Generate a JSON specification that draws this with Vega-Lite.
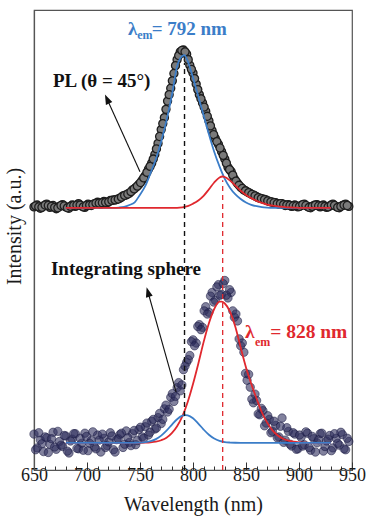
{
  "$schema": "https://vega.github.io/schema/vega-lite/v6.json",
  "width": 318,
  "height": 460,
  "autosize": "none",
  "padding": {"left": 34, "top": 10, "right": 24, "bottom": 57},
  "background": "white",
  "config": {"view": {"stroke": "#555", "strokeWidth": 1.2}, "font": "Times New Roman, Liberation Serif, DejaVu Serif, serif"},
  "datasets": {
    "pl": [
      {"wavelength":650,"intensity":57.2},{"wavelength":653,"intensity":57.6},{"wavelength":656,"intensity":56.9},{"wavelength":659,"intensity":57.4},{"wavelength":662,"intensity":57.8},{"wavelength":665,"intensity":57.1},{"wavelength":668,"intensity":57.5},{"wavelength":671,"intensity":56.8},{"wavelength":674,"intensity":57.3},{"wavelength":677,"intensity":57.7},{"wavelength":680,"intensity":57.2},{"wavelength":683,"intensity":56.9},{"wavelength":686,"intensity":57.6},{"wavelength":689,"intensity":57.3},{"wavelength":692,"intensity":57.9},{"wavelength":695,"intensity":57.4},{"wavelength":698,"intensity":57.1},{"wavelength":701,"intensity":57.8},{"wavelength":704,"intensity":57.5},{"wavelength":707,"intensity":57.9},{"wavelength":710,"intensity":58.2},{"wavelength":713,"intensity":57.8},{"wavelength":716,"intensity":58.4},{"wavelength":719,"intensity":58.1},{"wavelength":722,"intensity":58.6},{"wavelength":725,"intensity":58.7},{"wavelength":728,"intensity":58.8},{"wavelength":731,"intensity":59.1},{"wavelength":734,"intensity":59.6},{"wavelength":737,"intensity":59.8},{"wavelength":740,"intensity":60.2},{"wavelength":743,"intensity":60.9},{"wavelength":746,"intensity":61.4},{"wavelength":749,"intensity":62.1},{"wavelength":752,"intensity":63.0},{"wavelength":755,"intensity":64.0},{"wavelength":758,"intensity":65.4},{"wavelength":761,"intensity":66.7},{"wavelength":764,"intensity":68.6},{"wavelength":767,"intensity":71.0},{"wavelength":770,"intensity":74.0},{"wavelength":773,"intensity":76.6},{"wavelength":776,"intensity":80.2},{"wavelength":779,"intensity":83.0},{"wavelength":782,"intensity":86.2},{"wavelength":785,"intensity":89.2},{"wavelength":788,"intensity":90.9},{"wavelength":791,"intensity":91.3},{"wavelength":794,"intensity":90.4},{"wavelength":797,"intensity":88.0},{"wavelength":800,"intensity":86.3},{"wavelength":803,"intensity":83.9},{"wavelength":806,"intensity":81.6},{"wavelength":809,"intensity":79.8},{"wavelength":812,"intensity":78.0},{"wavelength":815,"intensity":75.9},{"wavelength":818,"intensity":73.8},{"wavelength":821,"intensity":72.1},{"wavelength":824,"intensity":70.8},{"wavelength":827,"intensity":69.2},{"wavelength":830,"intensity":67.6},{"wavelength":833,"intensity":65.8},{"wavelength":836,"intensity":64.9},{"wavelength":839,"intensity":63.3},{"wavelength":842,"intensity":62.3},{"wavelength":845,"intensity":61.5},{"wavelength":848,"intensity":60.9},{"wavelength":851,"intensity":60.5},{"wavelength":854,"intensity":60.1},{"wavelength":857,"intensity":59.8},{"wavelength":860,"intensity":59.4},{"wavelength":863,"intensity":59.1},{"wavelength":866,"intensity":58.9},{"wavelength":869,"intensity":58.7},{"wavelength":872,"intensity":58.4},{"wavelength":875,"intensity":58.2},{"wavelength":878,"intensity":58.1},{"wavelength":881,"intensity":57.8},{"wavelength":884,"intensity":57.9},{"wavelength":887,"intensity":57.5},{"wavelength":890,"intensity":57.7},{"wavelength":893,"intensity":57.3},{"wavelength":896,"intensity":57.6},{"wavelength":899,"intensity":57.2},{"wavelength":902,"intensity":57.5},{"wavelength":905,"intensity":57.8},{"wavelength":908,"intensity":57.3},{"wavelength":911,"intensity":57.0},{"wavelength":914,"intensity":57.5},{"wavelength":917,"intensity":57.7},{"wavelength":920,"intensity":57.2},{"wavelength":923,"intensity":57.6},{"wavelength":926,"intensity":57.1},{"wavelength":929,"intensity":57.4},{"wavelength":932,"intensity":57.8},{"wavelength":935,"intensity":57.3},{"wavelength":938,"intensity":57.0},{"wavelength":941,"intensity":57.5},{"wavelength":944,"intensity":57.8},{"wavelength":947,"intensity":57.3},
      {"wavelength":651.5,"intensity":57.4},{"wavelength":654.5,"intensity":57.2},{"wavelength":657.5,"intensity":57.1},{"wavelength":660.5,"intensity":57.6},{"wavelength":663.5,"intensity":57.5},{"wavelength":666.5,"intensity":57.3},{"wavelength":669.5,"intensity":57.1},{"wavelength":672.5,"intensity":57.0},{"wavelength":675.5,"intensity":57.5},{"wavelength":678.5,"intensity":57.4},{"wavelength":681.5,"intensity":57.0},{"wavelength":684.5,"intensity":57.3},{"wavelength":687.5,"intensity":57.5},{"wavelength":690.5,"intensity":57.6},{"wavelength":693.5,"intensity":57.6},{"wavelength":696.5,"intensity":57.2},{"wavelength":699.5,"intensity":57.5},{"wavelength":702.5,"intensity":57.6},{"wavelength":705.5,"intensity":57.7},{"wavelength":708.5,"intensity":58.0},{"wavelength":711.5,"intensity":58.0},{"wavelength":714.5,"intensity":58.1},{"wavelength":717.5,"intensity":58.2},{"wavelength":720.5,"intensity":58.3},{"wavelength":723.5,"intensity":58.6},{"wavelength":726.5,"intensity":58.7},{"wavelength":729.5,"intensity":58.9},{"wavelength":732.5,"intensity":59.3},{"wavelength":735.5,"intensity":59.7},{"wavelength":738.5,"intensity":60.0},{"wavelength":741.5,"intensity":60.5},{"wavelength":744.5,"intensity":61.1},{"wavelength":747.5,"intensity":61.7},{"wavelength":750.5,"intensity":62.5},{"wavelength":753.5,"intensity":63.5},{"wavelength":756.5,"intensity":64.7},{"wavelength":759.5,"intensity":66.0},{"wavelength":762.5,"intensity":67.6},{"wavelength":765.5,"intensity":69.8},{"wavelength":768.5,"intensity":72.5},{"wavelength":771.5,"intensity":75.3},{"wavelength":774.5,"intensity":78.4},{"wavelength":777.5,"intensity":81.6},{"wavelength":780.5,"intensity":84.6},{"wavelength":783.5,"intensity":87.9},{"wavelength":786.5,"intensity":90.1},{"wavelength":789.5,"intensity":91.2},{"wavelength":792.5,"intensity":90.9},{"wavelength":795.5,"intensity":89.2},{"wavelength":798.5,"intensity":87.1},{"wavelength":801.5,"intensity":85.1},{"wavelength":804.5,"intensity":82.7},{"wavelength":807.5,"intensity":80.7},{"wavelength":810.5,"intensity":78.9},{"wavelength":813.5,"intensity":76.9},{"wavelength":816.5,"intensity":74.8},{"wavelength":819.5,"intensity":72.9},{"wavelength":822.5,"intensity":71.4},{"wavelength":825.5,"intensity":70.0},{"wavelength":828.5,"intensity":68.4},{"wavelength":831.5,"intensity":66.7},{"wavelength":834.5,"intensity":65.3},{"wavelength":837.5,"intensity":64.1},{"wavelength":840.5,"intensity":62.8},{"wavelength":843.5,"intensity":61.9},{"wavelength":846.5,"intensity":61.2},{"wavelength":849.5,"intensity":60.7},{"wavelength":852.5,"intensity":60.3},{"wavelength":855.5,"intensity":59.9},{"wavelength":858.5,"intensity":59.6},{"wavelength":861.5,"intensity":59.2},{"wavelength":864.5,"intensity":59.0},{"wavelength":867.5,"intensity":58.8},{"wavelength":870.5,"intensity":58.5},{"wavelength":873.5,"intensity":58.3},{"wavelength":876.5,"intensity":58.1},{"wavelength":879.5,"intensity":57.9},{"wavelength":882.5,"intensity":57.9},{"wavelength":885.5,"intensity":57.7},{"wavelength":888.5,"intensity":57.6},{"wavelength":891.5,"intensity":57.5},{"wavelength":894.5,"intensity":57.4},{"wavelength":897.5,"intensity":57.4},{"wavelength":900.5,"intensity":57.3},{"wavelength":903.5,"intensity":57.7},{"wavelength":906.5,"intensity":57.5},{"wavelength":909.5,"intensity":57.1},{"wavelength":912.5,"intensity":57.3},{"wavelength":915.5,"intensity":57.6},{"wavelength":918.5,"intensity":57.4},{"wavelength":921.5,"intensity":57.4},{"wavelength":924.5,"intensity":57.3},{"wavelength":927.5,"intensity":57.2},{"wavelength":930.5,"intensity":57.6},{"wavelength":933.5,"intensity":57.5},{"wavelength":936.5,"intensity":57.1},{"wavelength":939.5,"intensity":57.3},{"wavelength":942.5,"intensity":57.6},{"wavelength":945.5,"intensity":57.5}
    ],
    "sphere": [
      {"wavelength":650,"intensity":7.8},{"wavelength":653,"intensity":4.8},{"wavelength":656,"intensity":6.5},{"wavelength":659,"intensity":4.0},{"wavelength":662,"intensity":7.0},{"wavelength":665,"intensity":5.6},{"wavelength":668,"intensity":8.2},{"wavelength":671,"intensity":4.5},{"wavelength":674,"intensity":6.2},{"wavelength":677,"intensity":5.1},{"wavelength":680,"intensity":7.4},{"wavelength":683,"intensity":3.7},{"wavelength":686,"intensity":6.7},{"wavelength":689,"intensity":7.9},{"wavelength":692,"intensity":4.6},{"wavelength":695,"intensity":5.8},{"wavelength":698,"intensity":8.0},{"wavelength":701,"intensity":4.2},{"wavelength":704,"intensity":6.4},{"wavelength":707,"intensity":5.0},{"wavelength":710,"intensity":7.6},{"wavelength":713,"intensity":3.9},{"wavelength":716,"intensity":6.9},{"wavelength":719,"intensity":5.3},{"wavelength":722,"intensity":8.1},{"wavelength":725,"intensity":4.4},{"wavelength":728,"intensity":6.6},{"wavelength":731,"intensity":7.7},{"wavelength":734,"intensity":4.9},{"wavelength":737,"intensity":8.5},{"wavelength":740,"intensity":6.0},{"wavelength":743,"intensity":7.9},{"wavelength":746,"intensity":5.5},{"wavelength":749,"intensity":8.8},{"wavelength":752,"intensity":7.2},{"wavelength":755,"intensity":9.4},{"wavelength":758,"intensity":7.6},{"wavelength":761,"intensity":10.6},{"wavelength":764,"intensity":8.9},{"wavelength":767,"intensity":11.4},{"wavelength":770,"intensity":10.1},{"wavelength":773,"intensity":13.3},{"wavelength":776,"intensity":12.6},{"wavelength":779,"intensity":15.8},{"wavelength":782,"intensity":14.9},{"wavelength":785,"intensity":17.9},{"wavelength":788,"intensity":17.2},{"wavelength":791,"intensity":21.8},{"wavelength":794,"intensity":23.4},{"wavelength":797,"intensity":24.9},{"wavelength":800,"intensity":28.3},{"wavelength":803,"intensity":27.6},{"wavelength":806,"intensity":31.6},{"wavelength":809,"intensity":31.0},{"wavelength":812,"intensity":35.5},{"wavelength":815,"intensity":34.3},{"wavelength":818,"intensity":38.6},{"wavelength":821,"intensity":36.9},{"wavelength":824,"intensity":40.3},{"wavelength":827,"intensity":38.2},{"wavelength":830,"intensity":41.2},{"wavelength":833,"intensity":37.4},{"wavelength":836,"intensity":38.6},{"wavelength":839,"intensity":33.2},{"wavelength":842,"intensity":32.4},{"wavelength":845,"intensity":27.0},{"wavelength":848,"intensity":25.6},{"wavelength":851,"intensity":19.5},{"wavelength":854,"intensity":18.0},{"wavelength":857,"intensity":14.6},{"wavelength":860,"intensity":15.1},{"wavelength":863,"intensity":12.0},{"wavelength":866,"intensity":12.9},{"wavelength":869,"intensity":10.2},{"wavelength":872,"intensity":11.0},{"wavelength":875,"intensity":8.4},{"wavelength":878,"intensity":9.7},{"wavelength":881,"intensity":7.2},{"wavelength":884,"intensity":11.3},{"wavelength":887,"intensity":6.5},{"wavelength":890,"intensity":8.4},{"wavelength":893,"intensity":5.2},{"wavelength":896,"intensity":7.8},{"wavelength":899,"intensity":4.6},{"wavelength":902,"intensity":7.1},{"wavelength":905,"intensity":5.5},{"wavelength":908,"intensity":8.0},{"wavelength":911,"intensity":4.3},{"wavelength":914,"intensity":6.8},{"wavelength":917,"intensity":5.9},{"wavelength":920,"intensity":7.9},{"wavelength":923,"intensity":4.1},{"wavelength":926,"intensity":6.3},{"wavelength":929,"intensity":7.5},{"wavelength":932,"intensity":4.8},{"wavelength":935,"intensity":6.9},{"wavelength":938,"intensity":5.4},{"wavelength":941,"intensity":7.7},{"wavelength":944,"intensity":4.4},{"wavelength":947,"intensity":6.2},
      {"wavelength":651.5,"intensity":4.4},{"wavelength":654.5,"intensity":8.1},{"wavelength":657.5,"intensity":5.7},{"wavelength":660.5,"intensity":7.2},{"wavelength":663.5,"intensity":3.8},{"wavelength":666.5,"intensity":6.8},{"wavelength":669.5,"intensity":5.0},{"wavelength":672.5,"intensity":8.4},{"wavelength":675.5,"intensity":5.4},{"wavelength":678.5,"intensity":7.5},{"wavelength":681.5,"intensity":4.1},{"wavelength":684.5,"intensity":6.3},{"wavelength":687.5,"intensity":7.9},{"wavelength":690.5,"intensity":4.7},{"wavelength":693.5,"intensity":6.9},{"wavelength":696.5,"intensity":4.3},{"wavelength":699.5,"intensity":7.3},{"wavelength":702.5,"intensity":5.8},{"wavelength":705.5,"intensity":8.3},{"wavelength":708.5,"intensity":4.6},{"wavelength":711.5,"intensity":6.5},{"wavelength":714.5,"intensity":7.8},{"wavelength":717.5,"intensity":4.9},{"wavelength":720.5,"intensity":6.1},{"wavelength":723.5,"intensity":7.4},{"wavelength":726.5,"intensity":3.9},{"wavelength":729.5,"intensity":6.8},{"wavelength":732.5,"intensity":8.0},{"wavelength":735.5,"intensity":5.6},{"wavelength":738.5,"intensity":7.0},{"wavelength":741.5,"intensity":5.3},{"wavelength":744.5,"intensity":8.6},{"wavelength":747.5,"intensity":6.4},{"wavelength":750.5,"intensity":9.3},{"wavelength":753.5,"intensity":6.9},{"wavelength":756.5,"intensity":10.2},{"wavelength":759.5,"intensity":8.2},{"wavelength":762.5,"intensity":11.0},{"wavelength":765.5,"intensity":9.1},{"wavelength":768.5,"intensity":12.3},{"wavelength":771.5,"intensity":11.0},{"wavelength":774.5,"intensity":14.1},{"wavelength":777.5,"intensity":13.2},{"wavelength":780.5,"intensity":16.6},{"wavelength":783.5,"intensity":16.0},{"wavelength":786.5,"intensity":19.0},{"wavelength":789.5,"intensity":18.5},{"wavelength":792.5,"intensity":22.6},{"wavelength":795.5,"intensity":24.0},{"wavelength":798.5,"intensity":27.9},{"wavelength":801.5,"intensity":27.0},{"wavelength":804.5,"intensity":31.2},{"wavelength":807.5,"intensity":30.5},{"wavelength":810.5,"intensity":34.6},{"wavelength":813.5,"intensity":33.9},{"wavelength":816.5,"intensity":37.8},{"wavelength":819.5,"intensity":36.5},{"wavelength":822.5,"intensity":39.8},{"wavelength":825.5,"intensity":38.0},{"wavelength":828.5,"intensity":40.5},{"wavelength":831.5,"intensity":38.0},{"wavelength":834.5,"intensity":39.2},{"wavelength":837.5,"intensity":34.6},{"wavelength":840.5,"intensity":33.9},{"wavelength":843.5,"intensity":28.5},{"wavelength":846.5,"intensity":27.6},{"wavelength":849.5,"intensity":21.0},{"wavelength":852.5,"intensity":20.8},{"wavelength":855.5,"intensity":15.4},{"wavelength":858.5,"intensity":16.5},{"wavelength":861.5,"intensity":12.2},{"wavelength":864.5,"intensity":13.4},{"wavelength":867.5,"intensity":9.6},{"wavelength":870.5,"intensity":11.8},{"wavelength":873.5,"intensity":8.1},{"wavelength":876.5,"intensity":10.6},{"wavelength":879.5,"intensity":7.0},{"wavelength":882.5,"intensity":9.5},{"wavelength":885.5,"intensity":6.0},{"wavelength":888.5,"intensity":9.2},{"wavelength":891.5,"intensity":5.6},{"wavelength":894.5,"intensity":8.1},{"wavelength":897.5,"intensity":4.5},{"wavelength":900.5,"intensity":7.6},{"wavelength":903.5,"intensity":5.2},{"wavelength":906.5,"intensity":8.3},{"wavelength":909.5,"intensity":4.9},{"wavelength":912.5,"intensity":7.3},{"wavelength":915.5,"intensity":3.9},{"wavelength":918.5,"intensity":6.6},{"wavelength":921.5,"intensity":8.0},{"wavelength":924.5,"intensity":5.1},{"wavelength":927.5,"intensity":6.7},{"wavelength":930.5,"intensity":4.2},{"wavelength":933.5,"intensity":7.9},{"wavelength":936.5,"intensity":5.8},{"wavelength":939.5,"intensity":8.2},{"wavelength":942.5,"intensity":4.6},{"wavelength":945.5,"intensity":6.9}
    ],
    "plBlue": [
      {"wavelength":680,"intensity":57.0},{"wavelength":690,"intensity":57.0},{"wavelength":700,"intensity":57.0},{"wavelength":710,"intensity":57.0},{"wavelength":720,"intensity":57.0},{"wavelength":725,"intensity":57.0},{"wavelength":730,"intensity":57.05},{"wavelength":735,"intensity":57.2},{"wavelength":740,"intensity":57.6},{"wavelength":745,"intensity":58.2},{"wavelength":750,"intensity":59.85},{"wavelength":755,"intensity":61.75},{"wavelength":760,"intensity":64.6},{"wavelength":765,"intensity":67.6},{"wavelength":770,"intensity":71.4},{"wavelength":775,"intensity":76.0},{"wavelength":780,"intensity":81.4},{"wavelength":785,"intensity":87.8},{"wavelength":788,"intensity":89.5},{"wavelength":790,"intensity":90.0},{"wavelength":792,"intensity":90.2},{"wavelength":795,"intensity":88.9},{"wavelength":800,"intensity":85.3},{"wavelength":805,"intensity":81.2},{"wavelength":810,"intensity":77.1},{"wavelength":815,"intensity":73.0},{"wavelength":820,"intensity":69.2},{"wavelength":825,"intensity":66.0},{"wavelength":830,"intensity":63.3},{"wavelength":835,"intensity":61.3},{"wavelength":840,"intensity":59.9},{"wavelength":845,"intensity":58.9},{"wavelength":850,"intensity":58.15},{"wavelength":855,"intensity":57.65},{"wavelength":860,"intensity":57.35},{"wavelength":865,"intensity":57.15},{"wavelength":870,"intensity":57.05},{"wavelength":875,"intensity":57.0},{"wavelength":890,"intensity":57.0},{"wavelength":910,"intensity":57.0},{"wavelength":930,"intensity":57.0}
    ],
    "plRed": [
      {"wavelength":680,"intensity":57.0},{"wavelength":700,"intensity":57.0},{"wavelength":720,"intensity":57.0},{"wavelength":740,"intensity":57.0},{"wavelength":760,"intensity":57.0},{"wavelength":780,"intensity":57.0},{"wavelength":785,"intensity":57.0},{"wavelength":790,"intensity":57.1},{"wavelength":795,"intensity":57.35},{"wavelength":800,"intensity":57.9},{"wavelength":805,"intensity":58.6},{"wavelength":810,"intensity":59.6},{"wavelength":815,"intensity":61.0},{"wavelength":820,"intensity":62.5},{"wavelength":825,"intensity":63.6},{"wavelength":828,"intensity":63.8},{"wavelength":830,"intensity":63.7},{"wavelength":835,"intensity":62.9},{"wavelength":840,"intensity":61.8},{"wavelength":845,"intensity":60.7},{"wavelength":850,"intensity":59.8},{"wavelength":855,"intensity":59.1},{"wavelength":860,"intensity":58.5},{"wavelength":865,"intensity":58.05},{"wavelength":870,"intensity":57.7},{"wavelength":875,"intensity":57.45},{"wavelength":880,"intensity":57.3},{"wavelength":885,"intensity":57.2},{"wavelength":890,"intensity":57.1},{"wavelength":895,"intensity":57.05},{"wavelength":900,"intensity":57.0},{"wavelength":915,"intensity":57.0},{"wavelength":930,"intensity":57.0}
    ],
    "isRed": [
      {"wavelength":680,"intensity":5.9},{"wavelength":700,"intensity":5.9},{"wavelength":720,"intensity":5.9},{"wavelength":740,"intensity":5.9},{"wavelength":745,"intensity":5.9},{"wavelength":750,"intensity":5.92},{"wavelength":755,"intensity":5.95},{"wavelength":760,"intensity":6.02},{"wavelength":765,"intensity":6.17},{"wavelength":770,"intensity":6.47},{"wavelength":775,"intensity":7.0},{"wavelength":780,"intensity":8.0},{"wavelength":785,"intensity":9.5},{"wavelength":790,"intensity":11.7},{"wavelength":795,"intensity":14.8},{"wavelength":800,"intensity":18.7},{"wavelength":805,"intensity":23.1},{"wavelength":810,"intensity":27.8},{"wavelength":815,"intensity":31.9},{"wavelength":820,"intensity":35.0},{"wavelength":825,"intensity":36.6},{"wavelength":827,"intensity":36.6},{"wavelength":830,"intensity":36.2},{"wavelength":835,"intensity":34.4},{"wavelength":840,"intensity":31.1},{"wavelength":845,"intensity":26.6},{"wavelength":850,"intensity":22.3},{"wavelength":855,"intensity":18.7},{"wavelength":860,"intensity":15.5},{"wavelength":865,"intensity":12.5},{"wavelength":870,"intensity":10.3},{"wavelength":875,"intensity":8.6},{"wavelength":880,"intensity":7.5},{"wavelength":885,"intensity":6.8},{"wavelength":890,"intensity":6.38},{"wavelength":895,"intensity":6.14},{"wavelength":900,"intensity":6.01},{"wavelength":905,"intensity":5.95},{"wavelength":910,"intensity":5.9},{"wavelength":930,"intensity":5.9}
    ],
    "isBlue": [
      {"wavelength":680,"intensity":5.9},{"wavelength":700,"intensity":5.9},{"wavelength":720,"intensity":5.9},{"wavelength":740,"intensity":5.9},{"wavelength":745,"intensity":5.92},{"wavelength":750,"intensity":5.96},{"wavelength":755,"intensity":6.05},{"wavelength":760,"intensity":6.27},{"wavelength":765,"intensity":6.72},{"wavelength":770,"intensity":7.47},{"wavelength":775,"intensity":8.55},{"wavelength":780,"intensity":9.83},{"wavelength":785,"intensity":11.04},{"wavelength":790,"intensity":11.81},{"wavelength":793,"intensity":11.95},{"wavelength":795,"intensity":11.89},{"wavelength":800,"intensity":11.24},{"wavelength":805,"intensity":10.09},{"wavelength":810,"intensity":8.8},{"wavelength":815,"intensity":7.66},{"wavelength":820,"intensity":6.84},{"wavelength":825,"intensity":6.34},{"wavelength":830,"intensity":6.08},{"wavelength":835,"intensity":5.97},{"wavelength":840,"intensity":5.92},{"wavelength":845,"intensity":5.9},{"wavelength":870,"intensity":5.9},{"wavelength":900,"intensity":5.9},{"wavelength":930,"intensity":5.9}
    ]
  },
  "encoding": {
    "x": {
      "field": "wavelength", "type": "quantitative",
      "scale": {"domain": [650, 950], "nice": false, "zero": false},
      "axis": {
        "title": "Wavelength (nm)",
        "values": [650,660,670,680,690,700,710,720,730,740,750,760,770,780,790,800,810,820,830,840,850,860,870,880,890,900,910,920,930,940,950],
        "labelExpr": "datum.value % 50 === 0 ? datum.label : ''",
        "format": "d",
        "labelFlush": false,
        "labelOverlap": false,
        "labelFont": "Times New Roman, Liberation Serif, DejaVu Serif, serif",
        "labelFontSize": 18,
        "labelColor": "#1a1a1a",
        "labelPadding": 4,
        "tickSize": {"condition": {"test": "datum.value % 50 === 0", "value": -8}, "value": -4},
        "tickColor": "#333",
        "tickWidth": 1,
        "domainColor": "#555",
        "domainWidth": 1.2,
        "grid": false,
        "titleFont": "Times New Roman, Liberation Serif, DejaVu Serif, serif",
        "titleFontSize": 20,
        "titleFontWeight": "normal",
        "titleColor": "#1a1a1a",
        "titlePadding": 6
      }
    },
    "y": {
      "field": "intensity", "type": "quantitative",
      "scale": {"domain": [0, 100], "nice": false, "zero": false},
      "axis": {
        "title": "Intensity (a.u.)",
        "labels": false,
        "ticks": false,
        "grid": false,
        "domainColor": "#555",
        "domainWidth": 1.2,
        "titleFont": "Times New Roman, Liberation Serif, DejaVu Serif, serif",
        "titleFontSize": 20,
        "titleFontWeight": "normal",
        "titleColor": "#1a1a1a",
        "titlePadding": 10,
        "titleY": 216
      }
    }
  },
  "layer": [
    {"data": {"name": "pl"}, "mark": {"type": "point", "filled": true, "fill": "#7a7a7a", "stroke": "#1e1e1e", "strokeWidth": 1.3, "size": 65, "opacity": 1}},
    {"data": {"name": "sphere"}, "mark": {"type": "point", "filled": true, "fill": "#2e2e5e", "fillOpacity": 0.6, "stroke": "#1c1c44", "strokeOpacity": 0.55, "strokeWidth": 1, "size": 70}},
    {"data": {"name": "plBlue"}, "mark": {"type": "line", "color": "#3b7dc8", "strokeWidth": 1.8, "interpolate": "monotone"}},
    {"data": {"name": "plRed"}, "mark": {"type": "line", "color": "#e0282e", "strokeWidth": 1.8, "interpolate": "monotone"}},
    {"data": {"name": "isRed"}, "mark": {"type": "line", "color": "#e0282e", "strokeWidth": 1.8, "interpolate": "monotone"}},
    {"data": {"name": "isBlue"}, "mark": {"type": "line", "color": "#3b7dc8", "strokeWidth": 1.8, "interpolate": "monotone"}},
    {"data": {"values": [{"wavelength": 792, "intensity": 0, "intensity2": 88.5}]}, "mark": {"type": "rule", "color": "#111", "strokeDash": [5, 4], "strokeWidth": 1.4}, "encoding": {"y2": {"field": "intensity2"}}},
    {"data": {"values": [{"wavelength": 828, "intensity": 0, "intensity2": 63}]}, "mark": {"type": "rule", "color": "#e0282e", "strokeDash": [5, 4], "strokeWidth": 1.3}, "encoding": {"y2": {"field": "intensity2"}}},
    {"data": {"values": [{"wavelength": 750.0, "intensity": 64.85, "wavelength2": 718.9, "intensity2": 80.65}, {"wavelength": 784.0, "intensity": 17.0, "wavelength2": 757.5, "intensity2": 38.7}]}, "mark": {"type": "rule", "color": "#111", "strokeWidth": 1.1}, "encoding": {"x2": {"field": "wavelength2"}, "y2": {"field": "intensity2"}}},
    {"data": {"values": [{"wavelength": 718.9, "intensity": 80.65}]}, "mark": {"type": "point", "shape": "M0,-1L0.7,1L-0.7,1Z", "filled": true, "color": "#111", "size": 100, "angle": 335.6, "opacity": 1}},
    {"data": {"values": [{"wavelength": 757.5, "intensity": 38.7}]}, "mark": {"type": "point", "shape": "M0,-1L0.7,1L-0.7,1Z", "filled": true, "color": "#111", "size": 100, "angle": 344.3, "opacity": 1}},
    {"data": {"values": [{"text": "PL (θ = 45°)", "wavelength": 667.9, "intensity": 84.5}, {"text": "Integrating sphere", "wavelength": 666.0, "intensity": 43.8}]}, "mark": {"type": "text", "align": "left", "baseline": "middle", "font": "Times New Roman, Liberation Serif, DejaVu Serif, serif", "fontWeight": "bold", "fontSize": 19, "color": "#111"}, "encoding": {"text": {"field": "text"}}},
    {"data": {"values": [{"text": "λ", "wavelength": 738.7, "intensity": 95.9}, {"text": "= 792 nm", "wavelength": 761.0, "intensity": 95.9}]}, "mark": {"type": "text", "align": "left", "baseline": "middle", "font": "Times New Roman, Liberation Serif, DejaVu Serif, serif", "fontWeight": "bold", "fontSize": 19, "color": "#3b7dc8"}, "encoding": {"text": {"field": "text"}}},
    {"data": {"values": [{"text": "em", "wavelength": 747.4, "intensity": 94.5}]}, "mark": {"type": "text", "align": "left", "baseline": "middle", "font": "Times New Roman, Liberation Serif, DejaVu Serif, serif", "fontWeight": "bold", "fontSize": 12, "color": "#3b7dc8"}, "encoding": {"text": {"field": "text"}}},
    {"data": {"values": [{"text": "λ", "wavelength": 849.1, "intensity": 30.0}, {"text": "= 828 nm", "wavelength": 872.8, "intensity": 30.0}]}, "mark": {"type": "text", "align": "left", "baseline": "middle", "font": "Times New Roman, Liberation Serif, DejaVu Serif, serif", "fontWeight": "bold", "fontSize": 19.5, "color": "#e0282e"}, "encoding": {"text": {"field": "text"}}},
    {"data": {"values": [{"text": "em", "wavelength": 858.5, "intensity": 27.9}]}, "mark": {"type": "text", "align": "left", "baseline": "middle", "font": "Times New Roman, Liberation Serif, DejaVu Serif, serif", "fontWeight": "bold", "fontSize": 12, "color": "#e0282e"}, "encoding": {"text": {"field": "text"}}}
  ]
}
